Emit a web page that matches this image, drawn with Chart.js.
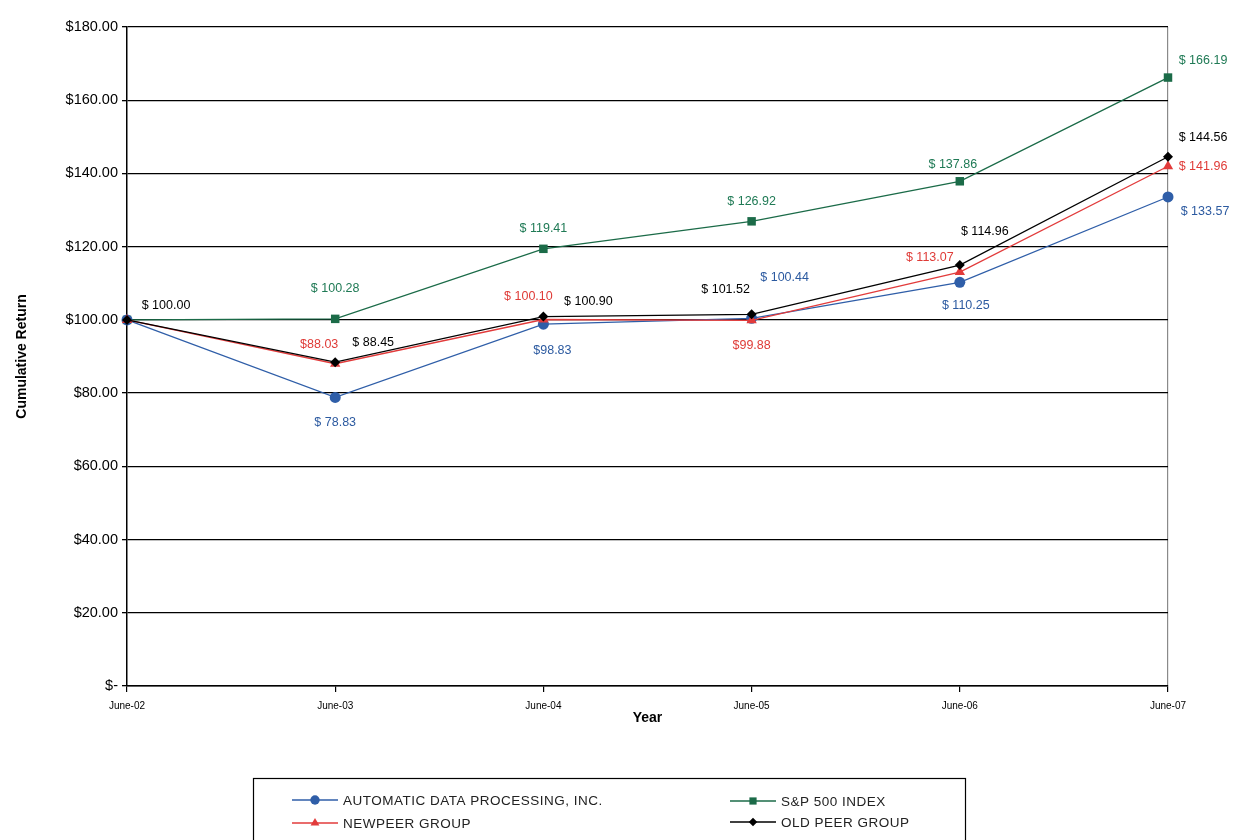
<!DOCTYPE html>
<html><head><meta charset="utf-8">
<script src="https://cdn.jsdelivr.net/npm/chart.js@4.4.0/dist/chart.umd.min.js"></script>
<style>html,body{margin:0;padding:0;background:#fff}#wrap{width:1239px;height:840px;position:relative}</style>
</head><body><div id="wrap"><canvas id="c" width="1239" height="840"></canvas></div>
<script>
// ---- data ----
const years = ['June-02', 'June-03', 'June-04', 'June-05', 'June-06', 'June-07'];
const adp = [100.00, 78.83, 98.83, 100.44, 110.25, 133.57];
const sp500 = [100.00, 100.28, 119.41, 126.92, 137.86, 166.19];
const newPeer = [100.00, 88.03, 100.10, 99.88, 113.07, 141.96];
const oldPeer = [100.00, 88.45, 100.90, 101.52, 114.96, 144.56];
const seriesNames = ['AUTOMATIC DATA PROCESSING, INC.', 'S&P 500 INDEX', 'NEWPEER GROUP', 'OLD PEER GROUP'];
const yTickValues = [0, 20, 40, 60, 80, 100, 120, 140, 160, 180];

// ---- styling / layout ----
const FONT = "'Liberation Sans', Arial, Helvetica, sans-serif";
Chart.defaults.font.family = FONT;
const COLORS = { adp: '#2f5ea8', sp: '#1b6b48', np: '#e23b3b', op: '#000000' };
const LABEL_COLORS = ['#2c5aa0', '#1f7a55', '#df3b37', '#000000'];
// [dx, dy, compact] offsets of value labels from each point (null = no label)
const LABEL_POS = [
  [null, [0, 25], [9, 26, 1], [33, -41], [6, 23], [37, 15]],
  [null, [0, -30], [0, -20], [0, -20], [-7, -17], [35, -17]],
  [null, [-16, -19, 1], [-15, -23], [0, 25, 1], [-30, -14], [35, 0]],
  [[39, -14], [38, -20], [45, -15], [-26, -25], [25, -34], [35, -19]]
];

const valueLabels = {
  id: 'valueLabels',
  afterDatasetsDraw(chart) {
    const ctx = chart.ctx;
    ctx.save();
    ctx.font = '12.5px ' + FONT;
    ctx.textAlign = 'center';
    ctx.textBaseline = 'middle';
    chart.data.datasets.forEach((ds, di) => {
      const meta = chart.getDatasetMeta(di);
      meta.data.forEach((pt, i) => {
        const p = LABEL_POS[di][i];
        if (!p) return;
        const v = ds.data[i];
        const txt = (p[2] ? '$' : '$ ') + v.toFixed(2);
        ctx.fillStyle = LABEL_COLORS[di];
        ctx.fillText(txt, pt.x + p[0], pt.y + p[1]);
      });
    });
    ctx.restore();
  }
};

const legendBox = {
  id: 'legendBox',
  afterDraw(chart) {
    const ctx = chart.ctx;
    ctx.save();
    ctx.strokeStyle = '#000';
    ctx.lineWidth = 1.2;
    ctx.strokeRect(253.5, 778.5, 712, 70);
    const items = [[292, 800], [730, 801], [292, 823], [730, 822]];
    ctx.font = '13.5px ' + FONT;
    if ('letterSpacing' in ctx) ctx.letterSpacing = '0.5px';
    ctx.textBaseline = 'middle';
    ctx.textAlign = 'left';
    chart.data.datasets.forEach((ds, di) => {
      const [x, y] = items[di];
      ctx.strokeStyle = ds.borderColor;
      ctx.lineWidth = 1.3;
      ctx.beginPath(); ctx.moveTo(x, y); ctx.lineTo(x + 46, y); ctx.stroke();
      ctx.fillStyle = ds.borderColor;
      Chart.helpers.drawPoint(ctx, {
        pointStyle: ds.pointStyle, radius: ds.pointRadius * 0.85, rotation: 0, borderWidth: 0
      }, x + 23, y);
      ctx.fillStyle = '#222';
      ctx.fillText(seriesNames[di], x + 51, y + 1);
    });
    ctx.restore();
  }
};

function mk(label, data, color, style, r, order) {
  return {
    label, data,
    borderColor: color, backgroundColor: color,
    pointBackgroundColor: color, pointBorderColor: color,
    pointStyle: style, pointRadius: r, pointBorderWidth: 0,
    borderWidth: 1.3, tension: 0, clip: false, order
  };
}

const chart = new Chart(document.getElementById('c'), {
  type: 'line',
  data: {
    labels: years,
    datasets: [
      mk(seriesNames[0], adp, COLORS.adp, 'circle', 5.5, 3),
      mk(seriesNames[1], sp500, COLORS.sp, 'rect', 6, 4),
      mk(seriesNames[2], newPeer, COLORS.np, 'triangle', 6, 2),
      mk(seriesNames[3], oldPeer, COLORS.op, 'rectRot', 5, 1)
    ]
  },
  options: {
    responsive: false,
    animation: false,
    devicePixelRatio: 1,
    layout: { padding: { left: 0, right: 71, top: 27, bottom: 112 } },
    plugins: { legend: { display: false }, tooltip: { enabled: false } },
    scales: {
      x: {
        type: 'category',
        offset: false,
        grid: {
          drawOnChartArea: true,
          color: c => (c.index === years.length - 1 ? '#8a8a8a' : 'rgba(0,0,0,0)'),
          tickColor: '#000', tickLength: 6, lineWidth: 1.2
        },
        border: { display: true, color: '#000', width: 1.5 },
        ticks: { font: { size: 10 }, color: '#000', padding: 8, maxRotation: 0, autoSkip: false },
        title: { display: true, text: 'Year', color: '#000', font: { size: 14, weight: 'bold' }, padding: { top: 0, bottom: 1 } },
        afterFit: s => { s.height = 42; }
      },
      y: {
        min: 0, max: 180,
        afterBuildTicks: s => { s.ticks = yTickValues.map(v => ({ value: v })); },
        grid: { color: '#000', lineWidth: 1.3, tickLength: 5, tickColor: '#000' },
        border: { display: true, color: '#000', width: 1.5 },
        ticks: {
          font: { size: 14.5 }, color: '#000', padding: 4,
          callback: v => (v === 0 ? '$-' : '$' + Number(v).toFixed(2))
        },
        title: { display: true, text: 'Cumulative Return', color: '#000', font: { size: 14, weight: 'bold' }, padding: { top: 14, bottom: 0 } },
        afterFit: s => { s.width = 127; }
      }
    }
  },
  plugins: [valueLabels, legendBox]
});
</script>
</body></html>
